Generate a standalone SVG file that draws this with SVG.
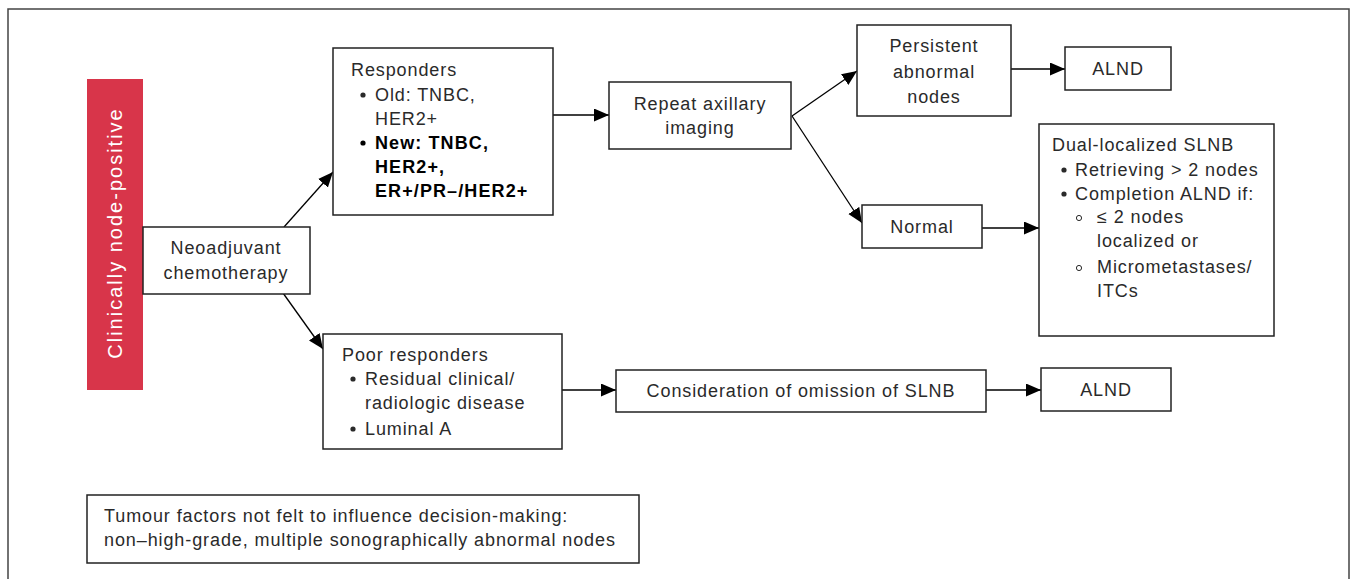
<svg xmlns="http://www.w3.org/2000/svg" width="1355" height="579" viewBox="0 0 1355 579">
<defs>
<style>
.box{fill:#fff;stroke:#222;stroke-width:1.5}
.t{font-family:"Liberation Sans",Arial,sans-serif;font-size:18px;letter-spacing:0.9px;fill:#2a2a2a}
.c{text-anchor:middle}
.b{font-weight:bold;fill:#000;letter-spacing:1.1px}
.ln{stroke:#000;stroke-width:1.3;fill:none;marker-end:url(#ah)}
</style>
<marker id="ah" markerUnits="userSpaceOnUse" markerWidth="16" markerHeight="14" refX="15" refY="6.5" orient="auto">
<path d="M0,0 L15,6.5 L0,13 Z" fill="#000"/>
</marker>
</defs>
<rect width="1355" height="579" fill="#fff"/>
<path d="M8,579 V9 H1349 V579" fill="none" stroke="#444" stroke-width="1.5"/>
<g id="side">
<rect x="87" y="79" width="56" height="311" fill="#d8354a"/>
<text class="t" transform="translate(122,233) rotate(-90)" text-anchor="middle" style="font-size:20px;letter-spacing:2px;fill:#fff">Clinically node-positive</text>
</g>
<g id="connectors">
<line class="ln" x1="284" y1="227" x2="333" y2="172"/>
<line class="ln" x1="283" y1="293" x2="323" y2="349"/>
<line class="ln" x1="553" y1="115" x2="609" y2="115"/>
<line class="ln" x1="792" y1="116" x2="857" y2="71"/>
<line class="ln" x1="792" y1="116" x2="862" y2="223"/>
<line class="ln" x1="1011" y1="69" x2="1065" y2="69"/>
<line class="ln" x1="982" y1="228" x2="1039" y2="228"/>
<line class="ln" x1="562" y1="390" x2="616" y2="390"/>
<line class="ln" x1="986" y1="390" x2="1041" y2="390"/>
</g>
<g id="neo">
<rect class="box" x="143" y="227" width="167" height="67"/>
<text class="t c" x="226" y="254">Neoadjuvant</text>
<text class="t c" x="226" y="279">chemotherapy</text>
</g>
<g id="responders">
<rect class="box" x="333" y="48" width="220" height="167"/>
<text class="t" x="351" y="76">Responders</text>
<circle cx="363" cy="95" r="2.6" fill="#2a2a2a"/>
<text class="t" x="375" y="101">Old: TNBC,</text>
<text class="t" x="375" y="125">HER2+</text>
<circle cx="363" cy="143" r="2.6" fill="#000"/>
<text class="t b" x="375" y="149">New: TNBC,</text>
<text class="t b" x="375" y="173">HER2+,</text>
<text class="t b" x="375" y="197">ER+/PR–/HER2+</text>
</g>
<g id="repeat">
<rect class="box" x="609" y="82" width="182" height="67"/>
<text class="t c" x="700" y="110">Repeat axillary</text>
<text class="t c" x="700" y="134">imaging</text>
</g>
<g id="persistent">
<rect class="box" x="857" y="25" width="154" height="91"/>
<text class="t c" x="934" y="52">Persistent</text>
<text class="t c" x="934" y="78">abnormal</text>
<text class="t c" x="934" y="103">nodes</text>
</g>
<g id="alnd1">
<rect class="box" x="1065" y="47" width="106" height="43"/>
<text class="t c" x="1118" y="75">ALND</text>
</g>
<g id="normal">
<rect class="box" x="862" y="205" width="120" height="43"/>
<text class="t c" x="922" y="233">Normal</text>
</g>
<g id="dual">
<rect class="box" x="1039" y="124" width="235" height="212"/>
<text class="t" x="1052" y="151">Dual-localized SLNB</text>
<circle cx="1064" cy="170" r="2.6" fill="#2a2a2a"/>
<text class="t" x="1075" y="176">Retrieving &gt; 2 nodes</text>
<circle cx="1064" cy="194" r="2.6" fill="#2a2a2a"/>
<text class="t" x="1075" y="200">Completion ALND if:</text>
<circle cx="1079" cy="218" r="2.6" fill="none" stroke="#2a2a2a" stroke-width="1"/>
<text class="t" x="1097" y="223">≤ 2 nodes</text>
<text class="t" x="1097" y="247">localized or</text>
<circle cx="1079" cy="268" r="2.6" fill="none" stroke="#2a2a2a" stroke-width="1"/>
<text class="t" x="1097" y="273">Micrometastases/</text>
<text class="t" x="1097" y="297">ITCs</text>
</g>
<g id="poor">
<rect class="box" x="323" y="334" width="239" height="115"/>
<text class="t" x="342" y="361">Poor responders</text>
<circle cx="353" cy="379" r="2.6" fill="#2a2a2a"/>
<text class="t" x="365" y="385">Residual clinical/</text>
<text class="t" x="365" y="409">radiologic disease</text>
<circle cx="353" cy="429" r="2.6" fill="#2a2a2a"/>
<text class="t" x="365" y="435">Luminal A</text>
</g>
<g id="consider">
<rect class="box" x="616" y="370" width="370" height="42"/>
<text class="t c" x="801" y="397">Consideration of omission of SLNB</text>
</g>
<g id="alnd2">
<rect class="box" x="1041" y="368" width="130" height="43"/>
<text class="t c" x="1106" y="396">ALND</text>
</g>
<g id="tumour">
<rect class="box" x="87" y="495" width="552" height="68"/>
<text class="t" x="104" y="522">Tumour factors not felt to influence decision-making:</text>
<text class="t" x="104" y="546">non–high-grade, multiple sonographically abnormal nodes</text>
</g>
</svg>
